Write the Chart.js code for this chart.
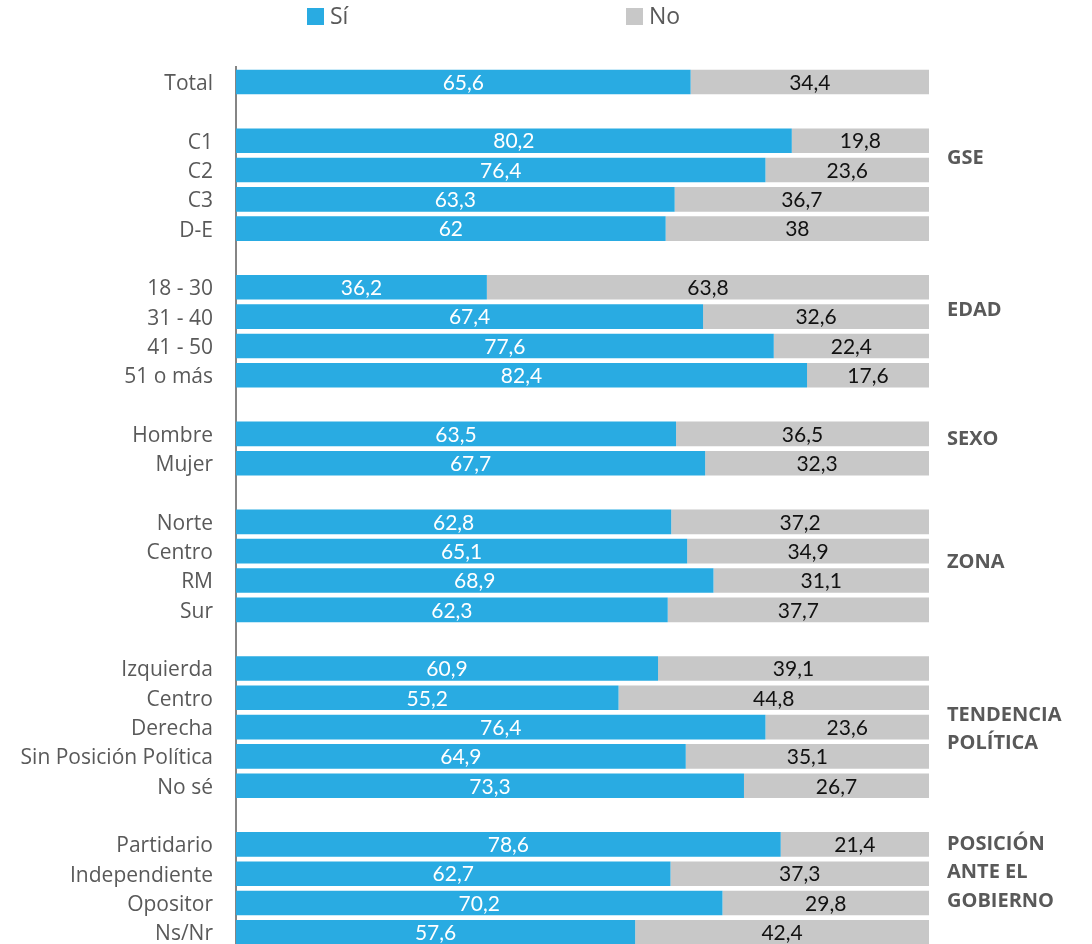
<!DOCTYPE html>
<html>
<head>
<meta charset="utf-8">
<script src="https://cdn.jsdelivr.net/npm/chart.js@4.4.1/dist/chart.umd.min.js"></script>
<style>
  html, body { margin: 0; padding: 0; background: #fff; overflow: hidden; }
  #wrap { width: 1092px; height: 947px; position: relative; }
</style>
</head>
<body>
<div id="wrap"><canvas id="myChart"></canvas></div>
<script>
// categorias (filas vacias = separacion entre grupos)
const categories = ['Total', '', 'C1', 'C2', 'C3', 'D-E', '', '18 - 30', '31 - 40', '41 - 50', '51 o más', '',
  'Hombre', 'Mujer', '', 'Norte', 'Centro', 'RM', 'Sur', '',
  'Izquierda', 'Centro', 'Derecha', 'Sin Posición Política', 'No sé', '',
  'Partidario', 'Independiente', 'Opositor', 'Ns/Nr'];

const siValues = [65.6, null, 80.2, 76.4, 63.3, 62, null, 36.2, 67.4, 77.6, 82.4, null,
  63.5, 67.7, null, 62.8, 65.1, 68.9, 62.3, null,
  60.9, 55.2, 76.4, 64.9, 73.3, null,
  78.6, 62.7, 70.2, 57.6];

const noValues = [34.4, null, 19.8, 23.6, 36.7, 38, null, 63.8, 32.6, 22.4, 17.6, null,
  36.5, 32.3, null, 37.2, 34.9, 31.1, 37.7, null,
  39.1, 44.8, 23.6, 35.1, 26.7, null,
  21.4, 37.3, 29.8, 42.4];

// etiquetas de grupo a la derecha y fila donde se centran
const groupNames = [['GSE'], ['EDAD'], ['SEXO'], ['ZONA'], ['TENDENCIA', 'POLÍTICA'], ['POSICIÓN', 'ANTE EL', 'GOBIERNO']];
const groupRows = [2.52, 7.71, 12.1, 16.3, 22.0, 26.9];

const fmt = v => String(v).replace('.', ',');

// etiquetas de valores dentro de las barras
const barLabels = {
  id: 'barLabels',
  afterDatasetsDraw(chart) {
    const c = chart.ctx;
    c.save();
    c.font = '21px Lato';
    c.textAlign = 'center';
    c.textBaseline = 'middle';
    chart.data.datasets.forEach((ds, di) => {
      chart.getDatasetMeta(di).data.forEach((bar, i) => {
        const v = ds.data[i];
        if (v === null) return;
        c.fillStyle = di === 0 ? '#ffffff' : '#111111';
        c.fillText(fmt(v), (bar.x + bar.base) / 2, bar.y + 1);
      });
    });
    c.restore();
  }
};

// grupos a la derecha
const groupLabels = {
  id: 'groupLabels',
  afterDraw(chart) {
    const c = chart.ctx;
    const y = chart.scales.y;
    c.save();
    c.font = 'bold 20px "Open Sans"';
    c.fillStyle = '#595959';
    c.textAlign = 'left';
    c.textBaseline = 'middle';
    groupNames.forEach((lines, g) => {
      const cy = y.getPixelForValue(groupRows[g]) + 2;
      const lh = 28.5;
      lines.forEach((t, k) => {
        c.fillText(t, chart.chartArea.right + 18, cy + (k - (lines.length - 1) / 2) * lh);
      });
    });
    c.restore();
  }
};

// leyenda arriba
const topLegend = {
  id: 'topLegend',
  afterDraw(chart) {
    const c = chart.ctx;
    const xs = [307, 626];
    c.save();
    c.font = '23px "Open Sans"';
    c.textBaseline = 'middle';
    chart.data.datasets.forEach((ds, i) => {
      c.fillStyle = ds.backgroundColor;
      c.fillRect(xs[i], 8, 17, 17);
      c.fillStyle = '#595959';
      c.fillText(ds.label, xs[i] + 23, 17);
    });
    c.restore();
  }
};

const ctx = document.getElementById('myChart').getContext('2d');
const chart = new Chart(ctx, {
  type: 'bar',
  data: {
    labels: categories,
    datasets: [
      { label: 'Sí', data: siValues, backgroundColor: '#29abe2' },
      { label: 'No', data: noValues, backgroundColor: '#c8c8c8' }
    ]
  },
  options: {
    indexAxis: 'y',
    responsive: true,
    maintainAspectRatio: false,
    animation: false,
    devicePixelRatio: 1,
    layout: { padding: { top: 67.4, right: 163, bottom: 0, left: 0 } },
    datasets: { bar: { barPercentage: 1, categoryPercentage: 0.84 } },
    plugins: {
      legend: { display: false },
      tooltip: { enabled: false }
    },
    scales: {
      x: { stacked: true, min: 0, max: 100, display: false },
      y: {
        stacked: true,
        grid: { display: false, drawTicks: false },
        border: { display: true, color: '#858585', width: 2 },
        ticks: {
          color: '#595959',
          font: { family: 'Open Sans', size: 21 },
          padding: 23,
          labelOffset: 2,
          autoSkip: false
        },
        afterFit(scale) {
          scale.width = 236;
          scale.paddingTop = 0;
          scale.paddingBottom = 0;
        }
      }
    }
  },
  plugins: [barLabels, groupLabels, topLegend]
});
</script>
</body>
</html>
